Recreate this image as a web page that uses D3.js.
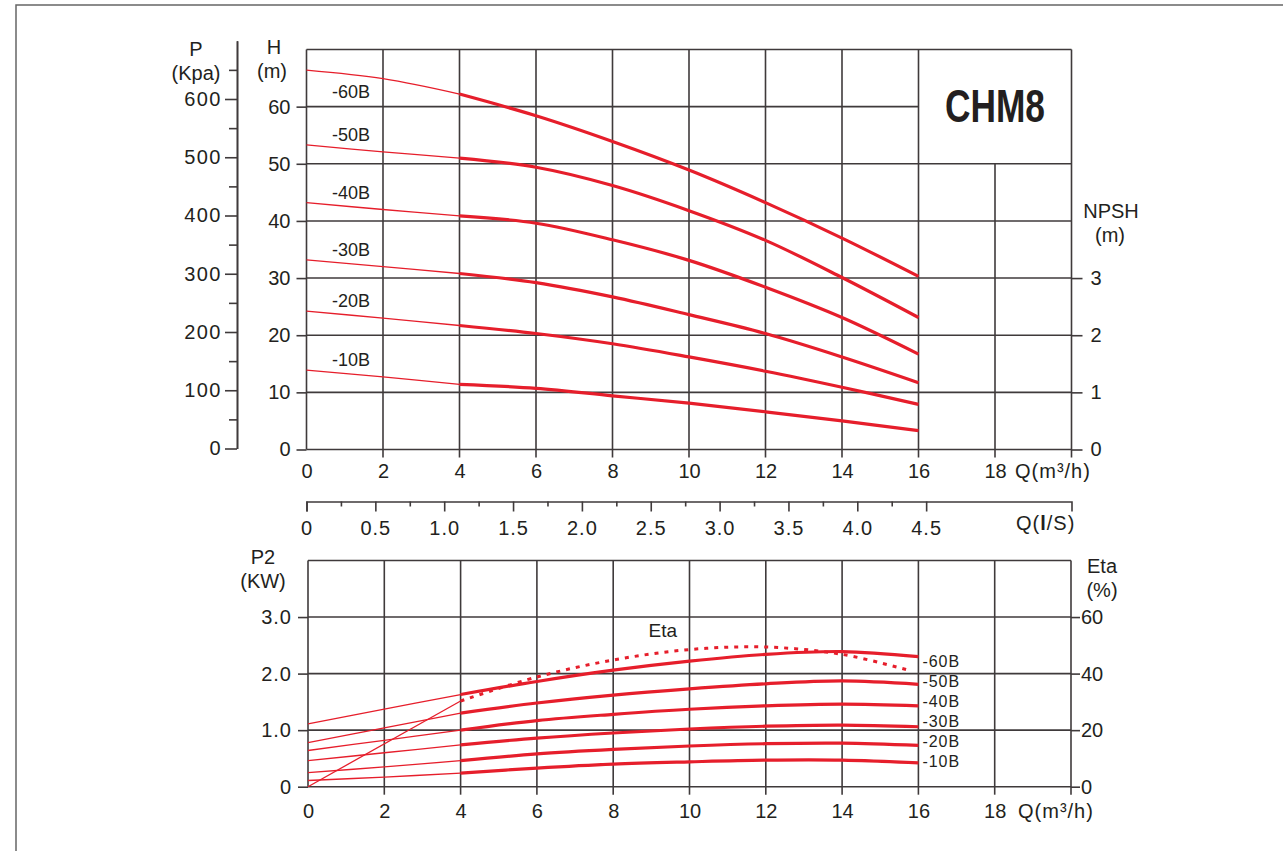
<!DOCTYPE html>
<html>
<head>
<meta charset="utf-8">
<script src="https://cdn.jsdelivr.net/npm/d3@7"></script>
<style>
body { margin: 0; background: #fff; }
svg text { font-family: "Liberation Sans", Arial, sans-serif; fill: #231f20; }
</style>
</head>
<body>
<div id="canvas"></div>
<script>
const flow = [0, 2, 4, 6, 8, 10, 12, 14, 16];
const models = ["-60B", "-50B", "-40B", "-30B", "-20B", "-10B"];

// head H (m)
const head60 = [66.4, 64.9, 62.2, 58.4, 53.9, 48.9, 43.2, 37.0, 30.3];
const head50 = [53.3, 52.1, 51.0, 49.4, 46.2, 41.8, 36.6, 30.1, 23.1];
const head40 = [43.2, 42.0, 40.9, 39.6, 36.7, 33.1, 28.4, 23.1, 16.7];
const head30 = [33.2, 32.0, 30.8, 29.2, 26.7, 23.6, 20.3, 16.2, 11.7];
const head20 = [24.2, 23.0, 21.7, 20.3, 18.5, 16.2, 13.7, 10.9, 7.9];
const head10 = [13.9, 12.7, 11.4, 10.7, 9.4, 8.1, 6.6, 5.0, 3.3];

// power P2 (kW)
const power60 = [1.11, 1.37, 1.63, 1.86, 2.06, 2.22, 2.34, 2.39, 2.30];
const power50 = [0.78, 1.04, 1.30, 1.48, 1.62, 1.73, 1.82, 1.87, 1.81];
const power40 = [0.64, 0.82, 1.00, 1.17, 1.28, 1.37, 1.43, 1.46, 1.43];
const power30 = [0.46, 0.60, 0.74, 0.86, 0.95, 1.02, 1.07, 1.09, 1.06];
const power20 = [0.25, 0.35, 0.46, 0.58, 0.66, 0.72, 0.76, 0.77, 0.73];
const power10 = [0.11, 0.17, 0.24, 0.33, 0.40, 0.44, 0.47, 0.47, 0.42];

// efficiency (%)
const etaFlow = [0, 4, 6, 8, 10, 12, 14, 15.8];
const etaValues = [0, 30.3, 38.8, 44.8, 48.5, 49.4, 46.8, 41.0];

// tick labels
const qTicks = [0, 2, 4, 6, 8, 10, 12, 14, 16, 18];
const hTicks = [0, 10, 20, 30, 40, 50, 60];
const pTicks = [0, 100, 200, 300, 400, 500, 600];
const npshTicks = [0, 1, 2, 3];
const lsTicks = [0, 0.5, 1.0, 1.5, 2.0, 2.5, 3.0, 3.5, 4.0, 4.5];
const p2Ticks = [0, 1, 2, 3];
const etaTicks = [0, 20, 40, 60];

const heads = [head60, head50, head40, head30, head20, head10];
const powers = [power60, power50, power40, power30, power20, power10];

const width = 1283, height = 851;
const red = "#e61e2b", gridColor = "#3f3a3b";

const svg = d3.select('#canvas').append('svg')
    .attr('width', width)
    .attr('height', height);

// outer frame of the sheet
svg.append('path')
    .attr('d', 'M16,' + height + 'V5H' + width)
    .attr('fill', 'none')
    .attr('stroke', '#666')
    .attr('stroke-width', 1.5);

// ---------- upper chart: H / P / NPSH ----------
const x = d3.scaleLinear().domain([0, 20]).range([306.5, 1071.5]);
const yH = d3.scaleLinear().domain([0, 70]).range([449.5, 49.5]);
const yNpsh = d3.scaleLinear().domain([0, 7]).range([449.5, 49.5]);
const yP = d3.scaleLinear().domain([0, 700]).range([448.5, 40.75]);

const topChart = svg.append('g');
const grid = topChart.append('g').attr('stroke', gridColor).attr('stroke-width', 1.6);

// horizontal lines, the 60 line stops at the title box
grid.selectAll('line.h').data(d3.range(0, 71, 10))
    .enter().append('line')
    .attr('x1', x(0))
    .attr('x2', d => d === 60 ? x(16) : x(20))
    .attr('y1', d => yH(d))
    .attr('y2', d => yH(d));

// vertical lines, the 18 line starts below the title box
grid.selectAll('line.v').data(d3.range(0, 21, 2))
    .enter().append('line')
    .attr('x1', d => x(d))
    .attr('x2', d => x(d))
    .attr('y1', d => d === 18 ? yH(50) : yH(70))
    .attr('y2', d => d === 0 ? yH(0) : yH(0) + 8);

svg.append('text')
    .attr('x', (x(16) + x(20)) / 2)
    .attr('y', 122)
    .attr('text-anchor', 'middle')
    .attr('font-family', '"DejaVu Sans Condensed", "DejaVu Sans", sans-serif')
    .attr('font-weight', 'bold')
    .attr('font-size', 46)
    .attr('textLength', 100)
    .attr('lengthAdjust', 'spacingAndGlyphs')
    .text('CHM8');

function styleAxis(g, size) {
    g.attr('font-family', null).attr('font-size', size);
    g.selectAll('.tick line').attr('stroke', gridColor).attr('stroke-width', 1.6);
    g.select('.domain').attr('stroke', gridColor).attr('stroke-width', 1.6);
    g.selectAll('.tick text').attr('fill', '#231f20');
}

// x axis Q (m3/h) labels
topChart.append('g')
    .attr('transform', 'translate(0,' + yH(0) + ')')
    .call(d3.axisBottom(x).tickValues(qTicks).tickSize(0).tickPadding(14))
    .call(g => g.select('.domain').remove())
    .call(g => styleAxis(g, 20));

// H axis
topChart.append('g')
    .attr('transform', 'translate(' + x(0) + ',0)')
    .call(d3.axisLeft(yH).tickValues(hTicks).tickSize(10).tickPadding(6))
    .call(g => g.select('.domain').remove())
    .call(g => styleAxis(g, 20));

// P axis (kPa), major and minor ticks
const pAxisX = 237;
topChart.append('g')
    .attr('transform', 'translate(' + pAxisX + ',0)')
    .call(d3.axisLeft(yP).tickValues(pTicks).tickSize(12).tickPadding(3).tickSizeOuter(0))
    .call(g => styleAxis(g, 20))
    .call(g => g.selectAll('.tick text').attr('letter-spacing', 1.5));
topChart.append('g')
    .attr('transform', 'translate(' + pAxisX + ',0)')
    .call(d3.axisLeft(yP).tickValues(d3.range(50, 700, 100)).tickSize(8).tickFormat('').tickSizeOuter(0))
    .call(g => styleAxis(g, 20));

// NPSH axis
topChart.append('g')
    .attr('transform', 'translate(' + x(20) + ',0)')
    .call(d3.axisRight(yNpsh).tickValues(npshTicks).tickSize(11).tickPadding(8)
        .tickFormat(d3.format('d')))
    .call(g => g.select('.domain').remove())
    .call(g => styleAxis(g, 20));

// axis titles
const titles = [
    ['P', 196, 56], ['(Kpa)', 196, 80],
    ['H', 274, 54], ['(m)', 272, 78],
    ['NPSH', 1111, 218], ['(m)', 1110, 242]
];
topChart.selectAll('text.title').data(titles)
    .enter().append('text')
    .attr('x', d => d[1])
    .attr('y', d => d[2])
    .attr('text-anchor', 'middle')
    .attr('font-size', 20)
    .text(d => d[0]);
topChart.append('text')
    .attr('x', 1015).attr('y', 478)
    .attr('font-size', 20)
    .attr('letter-spacing', 1)
    .text('Q(m³/h)');

// head curves: thin up to 4 m3/h, thick after
const headLine = d3.line()
    .x(d => x(d[0]))
    .y(d => yH(d[1]))
    .curve(d3.curveCatmullRom.alpha(0.5));

heads.forEach((h, k) => {
    const pts = flow.map((q, i) => [q, h[i]]);
    topChart.append('path')
        .attr('d', headLine(pts.slice(0, 3)))
        .attr('fill', 'none').attr('stroke', red).attr('stroke-width', 1.3);
    topChart.append('path')
        .attr('d', headLine(pts.slice(2)))
        .attr('fill', 'none').attr('stroke', red).attr('stroke-width', 3.2);
    topChart.append('text')
        .attr('x', 332)
        .attr('y', k === 0 ? yH(h[0]) + 28 : yH(h[0]) - 4)
        .attr('font-size', 18)
        .text(models[k]);
});

// ---------- Q (l/s) axis ----------
const xLs = d3.scaleLinear().domain([0, 20 / 3.6]).range([306.5, 1071.5]);
const lsAxisY = 501.5;
svg.append('g')
    .attr('transform', 'translate(0,' + lsAxisY + ')')
    .call(d3.axisBottom(xLs).tickValues(lsTicks).tickSize(10).tickPadding(9)
        .tickSizeOuter(10)
        .tickFormat(d => d === 0 ? '0' : d3.format('.1f')(d)))
    .call(g => styleAxis(g, 20))
    .call(g => g.selectAll('.tick text').attr('letter-spacing', 1));
svg.append('g')
    .attr('transform', 'translate(0,' + lsAxisY + ')')
    .call(d3.axisBottom(xLs).tickValues(d3.range(0.25, 4.5, 0.5)).tickSize(5).tickFormat(''))
    .call(g => g.select('.domain').remove())
    .call(g => styleAxis(g, 20));
const lsTitle = svg.append('text')
    .attr('x', 1016).attr('y', 530)
    .attr('font-size', 20)
    .attr('letter-spacing', 1);
lsTitle.append('tspan').text('Q(');
lsTitle.append('tspan').attr('font-weight', 'bold').text('l');
lsTitle.append('tspan').text('/S)');

// ---------- lower chart: P2 / Eta ----------
const x2 = d3.scaleLinear().domain([0, 20]).range([308, 1071]);
const yP2 = d3.scaleLinear().domain([0, 4]).range([786.7, 560.5]);
const yEta = d3.scaleLinear().domain([0, 80]).range([786.7, 560.5]);

const bottomChart = svg.append('g');
const grid2 = bottomChart.append('g').attr('stroke', gridColor).attr('stroke-width', 1.6);

grid2.selectAll('line').data([0, 1, 2, 3, 4])
    .enter().append('line')
    .attr('x1', x2(0))
    .attr('x2', x2(20))
    .attr('y1', d => yP2(d))
    .attr('y2', d => yP2(d));
grid2.selectAll('line.v').data(d3.range(0, 21, 2))
    .enter().append('line')
    .attr('x1', d => x2(d))
    .attr('x2', d => x2(d))
    .attr('y1', yP2(4))
    .attr('y2', d => d === 0 ? yP2(0) : yP2(0) + 8);

bottomChart.append('g')
    .attr('transform', 'translate(0,' + yP2(0) + ')')
    .call(d3.axisBottom(x2).tickValues(qTicks).tickSize(0).tickPadding(17))
    .call(g => g.select('.domain').remove())
    .call(g => styleAxis(g, 20));

bottomChart.append('g')
    .attr('transform', 'translate(' + x2(0) + ',0)')
    .call(d3.axisLeft(yP2).tickValues(p2Ticks).tickSize(10).tickPadding(6)
        .tickFormat(d => d === 0 ? '0' : d3.format('.1f')(d)))
    .call(g => g.select('.domain').remove())
    .call(g => styleAxis(g, 20))
    .call(g => g.selectAll('.tick text').attr('letter-spacing', 1));

bottomChart.append('g')
    .attr('transform', 'translate(' + x2(20) + ',0)')
    .call(d3.axisRight(yEta).tickValues(etaTicks).tickSize(9).tickPadding(1))
    .call(g => g.select('.domain').remove())
    .call(g => styleAxis(g, 20));

const titles2 = [
    ['P2', 263, 564], ['(KW)', 263, 588],
    ['Eta', 1102, 573], ['(%)', 1102, 597]
];
bottomChart.selectAll('text.title').data(titles2)
    .enter().append('text')
    .attr('x', d => d[1])
    .attr('y', d => d[2])
    .attr('text-anchor', 'middle')
    .attr('font-size', 20)
    .text(d => d[0]);
bottomChart.append('text')
    .attr('x', 1018).attr('y', 818)
    .attr('font-size', 20)
    .attr('letter-spacing', 1)
    .text('Q(m³/h)');

const powerLine = d3.line()
    .x(d => x2(d[0]))
    .y(d => yP2(d[1]))
    .curve(d3.curveCatmullRom.alpha(0.5));

powers.forEach((p, k) => {
    const pts = flow.map((q, i) => [q, p[i]]);
    bottomChart.append('path')
        .attr('d', powerLine(pts.slice(0, 3)))
        .attr('fill', 'none').attr('stroke', red).attr('stroke-width', 1.3);
    bottomChart.append('path')
        .attr('d', powerLine(pts.slice(2)))
        .attr('fill', 'none').attr('stroke', red).attr('stroke-width', 3.2);
    bottomChart.append('text')
        .attr('x', x2(16) + 4)
        .attr('y', yP2(power60[power60.length - 1]) + 10 + 20 * k)
        .attr('font-size', 16)
        .attr('letter-spacing', 1)
        .text(models[k]);
});

// efficiency: thin straight part, dotted part
const etaPts = etaFlow.map((q, i) => [q, etaValues[i]]);
const etaLine = d3.line()
    .x(d => x2(d[0]))
    .y(d => yEta(d[1]))
    .curve(d3.curveCatmullRom.alpha(0.5));
bottomChart.append('path')
    .attr('d', etaLine(etaPts.slice(0, 2)))
    .attr('fill', 'none').attr('stroke', red).attr('stroke-width', 1.3);
bottomChart.append('path')
    .attr('d', etaLine(etaPts.slice(1)))
    .attr('fill', 'none').attr('stroke', red).attr('stroke-width', 3)
    .attr('stroke-dasharray', '4,6');
bottomChart.append('text')
    .attr('x', x2(9.3))
    .attr('y', yEta(d3.max(etaValues)) - 10)
    .attr('text-anchor', 'middle')
    .attr('font-size', 19)
    .text('Eta');
</script>
</body>
</html>
